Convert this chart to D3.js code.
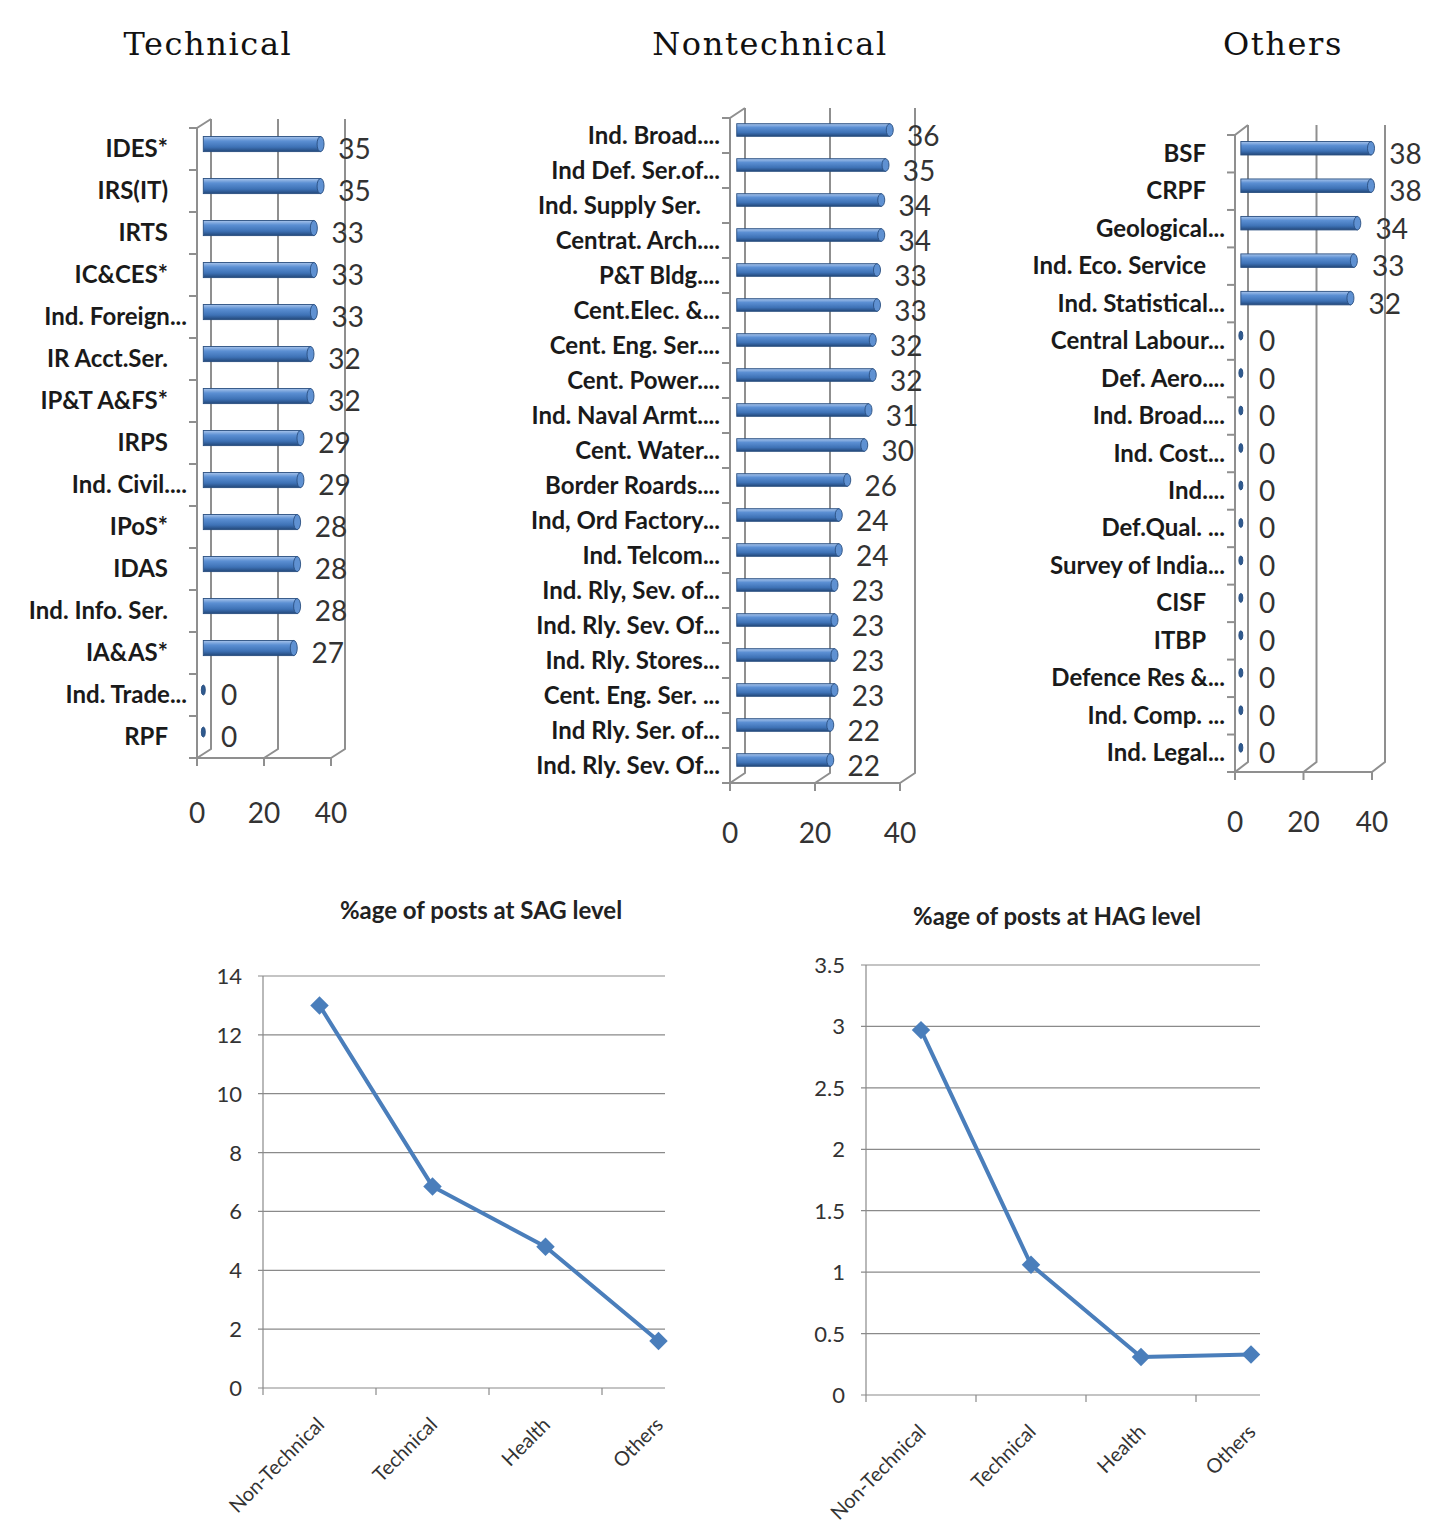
<!DOCTYPE html>
<html>
<head>
<meta charset="utf-8">
<script src="https://cdn.jsdelivr.net/npm/d3@7"></script>
<style>
  body { margin: 0; background: #fff; }
  svg { display: block; }
</style>
</head>
<body>
<svg id="chart" width="1454" height="1539"></svg>
<script>
// ---- data ----
var techLabels = ["IDES*", "IRS(IT)", "IRTS", "IC&CES*", "Ind. Foreign...", "IR Acct.Ser.", "IP&T A&FS*",
    "IRPS", "Ind. Civil....", "IPoS*", "IDAS", "Ind. Info. Ser.", "IA&AS*", "Ind. Trade...", "RPF"];
var techValues = [35, 35, 33, 33, 33, 32, 32, 29, 29, 28, 28, 28, 27, 0, 0];

var nonTechLabels = ["Ind. Broad....", "Ind Def. Ser.of...", "Ind. Supply Ser.", "Centrat. Arch....", "P&T Bldg....",
    "Cent.Elec. &...", "Cent. Eng. Ser....", "Cent. Power....", "Ind. Naval Armt....", "Cent. Water...",
    "Border Roards....", "Ind, Ord Factory...", "Ind. Telcom...", "Ind. Rly, Sev. of...", "Ind. Rly. Sev. Of...",
    "Ind. Rly. Stores...", "Cent. Eng. Ser. ...", "Ind Rly. Ser. of...", "Ind. Rly. Sev. Of..."];
var nonTechValues = [36, 35, 34, 34, 33, 33, 32, 32, 31, 30, 26, 24, 24, 23, 23, 23, 23, 22, 22];

var otherLabels = ["BSF", "CRPF", "Geological...", "Ind. Eco. Service", "Ind. Statistical...", "Central Labour...",
    "Def. Aero....", "Ind. Broad....", "Ind. Cost...", "Ind....", "Def.Qual. ...", "Survey of India...",
    "CISF", "ITBP", "Defence Res &...", "Ind. Comp. ...", "Ind. Legal..."];
var otherValues = [38, 38, 34, 33, 32, 0, 0, 0, 0, 0, 0, 0, 0, 0, 0, 0, 0];

var barTicks = [0, 20, 40];

var lineCategories = ["Non-Technical", "Technical", "Health", "Others"];
var sagValues = [13.0, 6.85, 4.8, 1.6];
var hagValues = [2.97, 1.06, 0.31, 0.33];
var sagTicks = [0, 2, 4, 6, 8, 10, 12, 14];
var hagTicks = [0, 0.5, 1, 1.5, 2, 2.5, 3, 3.5];

var svg = d3.select("#chart");
var labelFont = "Lato, 'Open Sans', sans-serif";

// bar gradient (cylinder look)
var defs = svg.append("defs");
var grad = defs.append("linearGradient")
    .attr("id", "barGrad")
    .attr("x1", 0).attr("y1", 0).attr("x2", 0).attr("y2", 1);
grad.append("stop").attr("offset", "0%").attr("stop-color", "#a9c5ec");
grad.append("stop").attr("offset", "30%").attr("stop-color", "#5b8fd3");
grad.append("stop").attr("offset", "70%").attr("stop-color", "#3e72b6");
grad.append("stop").attr("offset", "100%").attr("stop-color", "#23487a");

var barPanels = [
    {title: "Technical", titleX: 208, labels: techLabels, values: techValues,
     x0: 197, x40: 331, top: 128, bottom: 758, dx: 14, dy: -9, tickLabelY: 823},
    {title: "Nontechnical", titleX: 770, labels: nonTechLabels, values: nonTechValues,
     x0: 730, x40: 900, top: 118, bottom: 783, dx: 15, dy: -10, tickLabelY: 843},
    {title: "Others", titleX: 1283, labels: otherLabels, values: otherValues,
     x0: 1235, x40: 1372, top: 135, bottom: 772, dx: 13, dy: -10, tickLabelY: 832}
];

function drawBarPanel(p) {
    var g = svg.append("g");
    var x = d3.scaleLinear().domain([0, 40]).range([p.x0, p.x40]);
    var y = d3.scaleBand().domain(d3.range(p.labels.length)).range([p.top, p.bottom]);
    var bw = y.bandwidth();

    g.append("text")
        .attr("x", p.titleX).attr("y", 55)
        .attr("text-anchor", "middle")
        .style("font-family", "'DejaVu Serif', serif")
        .style("font-size", "32px")
        .style("letter-spacing", "1.6px")
        .attr("fill", "#111")
        .text(p.title);

    var lineColor = "#8f8f8f";

    // back wall gridlines + floor diagonals
    g.selectAll(".grid").data(barTicks).enter().append("path")
        .attr("d", function (t) {
            return "M" + (x(t) + p.dx) + "," + (p.top + p.dy) +
                   "V" + (p.bottom + p.dy) + "L" + x(t) + "," + p.bottom;
        })
        .attr("fill", "none").attr("stroke", lineColor).attr("stroke-width", 2);

    // front vertical axis, top diagonal, floor front edge
    g.append("path")
        .attr("d", "M" + (p.x0 + p.dx) + "," + (p.top + p.dy) + "L" + p.x0 + "," + p.top +
                   "V" + p.bottom + "H" + p.x40)
        .attr("fill", "none").attr("stroke", lineColor).attr("stroke-width", 2);

    // tick marks
    g.selectAll(".xt").data(barTicks).enter().append("line")
        .attr("x1", function (t) { return x(t); }).attr("x2", function (t) { return x(t); })
        .attr("y1", p.bottom).attr("y2", p.bottom + 8)
        .attr("stroke", lineColor).attr("stroke-width", 2);
    g.selectAll(".yt").data(d3.range(p.labels.length + 1)).enter().append("line")
        .attr("x1", p.x0 - 8).attr("x2", p.x0)
        .attr("y1", function (i) { return p.top + i * bw; })
        .attr("y2", function (i) { return p.top + i * bw; })
        .attr("stroke", lineColor).attr("stroke-width", 2);

    // axis numbers
    g.selectAll(".xl").data(barTicks).enter().append("text")
        .attr("x", function (t) { return x(t); }).attr("y", p.tickLabelY)
        .attr("text-anchor", "middle")
        .style("font-family", labelFont).style("font-size", "28px")
        .attr("fill", "#333")
        .text(function (t) { return t; });

    // category labels (truncated ones sit closer to the axis)
    g.selectAll(".cl").data(p.labels).enter().append("text")
        .attr("x", function (d) { return /\.\.\.$/.test(d) ? p.x0 - 10 : p.x0 - 29; })
        .attr("y", function (d, i) { return y(i) + bw / 2 + 8; })
        .attr("text-anchor", "end")
        .style("font-family", labelFont).style("font-size", "24px").style("font-weight", "bold")
        .attr("fill", "#1a1a1a")
        .text(function (d) { return d; });

    // bars
    var h = bw * 0.36;
    var bdx = p.dx * 0.45, bdy = p.dy * 0.55;
    var bars = g.selectAll(".bar").data(p.values).enter().append("g");
    bars.filter(function (v) { return v > 0; }).append("rect")
        .attr("x", x(0) + bdx)
        .attr("y", function (v, i) { return y(i) + bw / 2 + bdy - h / 2; })
        .attr("width", function (v) { return x(v) - x(0); })
        .attr("height", h)
        .attr("fill", "url(#barGrad)")
        .attr("stroke", "#2a4f80").attr("stroke-width", 0.9);
    bars.append("ellipse")
        .attr("cx", function (v) { return x(v) + bdx; })
        .attr("cy", function (v, i) { return y(i) + bw / 2 + bdy; })
        .attr("rx", function (v) { return v > 0 ? 3.5 : 2; })
        .attr("ry", function (v) { return v > 0 ? h / 2 : h / 3; })
        .attr("fill", function (v) { return v > 0 ? "#5f91d2" : "#2f5a8f"; })
        .attr("stroke", "#2a4f80").attr("stroke-width", 0.9);

    // value labels
    g.selectAll(".vl").data(p.values).enter().append("text")
        .attr("x", function (v) { return x(v) + 24; })
        .attr("y", function (v, i) { return y(i) + bw / 2 + 10; })
        .style("font-family", labelFont).style("font-size", "28px")
        .attr("fill", "#333")
        .text(function (v) { return v; });
}

barPanels.forEach(drawBarPanel);

// ---- line charts ----
var linePanels = [
    {title: "%age of posts at SAG level", titleX: 481, titleY: 919, values: sagValues, ticks: sagTicks,
     left: 263, band: 113, right: 665, zeroY: 1388, topY: 976, max: 14},
    {title: "%age of posts at HAG level", titleX: 1057, titleY: 925, values: hagValues, ticks: hagTicks,
     left: 866, band: 110, right: 1260, zeroY: 1395, topY: 965, max: 3.5}
];

function drawLinePanel(p) {
    var g = svg.append("g");
    var x = d3.scaleBand().domain(lineCategories).range([p.left, p.left + lineCategories.length * p.band]);
    var y = d3.scaleLinear().domain([0, p.max]).range([p.zeroY, p.topY]);
    var axisColor = "#8a8a8a";

    g.append("text")
        .attr("x", p.titleX).attr("y", p.titleY)
        .attr("text-anchor", "middle")
        .style("font-family", labelFont).style("font-size", "24px").style("font-weight", "bold")
        .attr("fill", "#222")
        .text(p.title);

    g.selectAll(".gl").data(p.ticks).enter().append("line")
        .attr("x1", p.left - 5).attr("x2", p.right)
        .attr("y1", function (t) { return y(t); }).attr("y2", function (t) { return y(t); })
        .attr("stroke", axisColor).attr("stroke-width", 1.2);

    g.append("line")
        .attr("x1", p.left).attr("x2", p.left)
        .attr("y1", p.topY).attr("y2", p.zeroY)
        .attr("stroke", axisColor).attr("stroke-width", 1.2);

    g.selectAll(".xt").data(lineCategories).enter().append("line")
        .attr("x1", function (c) { return x(c); }).attr("x2", function (c) { return x(c); })
        .attr("y1", p.zeroY).attr("y2", p.zeroY + 7)
        .attr("stroke", axisColor).attr("stroke-width", 1.2);

    g.selectAll(".yl").data(p.ticks).enter().append("text")
        .attr("x", p.left - 21)
        .attr("y", function (t) { return y(t) + 8; })
        .attr("text-anchor", "end")
        .style("font-family", labelFont).style("font-size", "22px")
        .attr("fill", "#333")
        .text(function (t) { return t; });

    g.selectAll(".xl").data(lineCategories).enter().append("text")
        .attr("transform", function (c) {
            return "translate(" + (x(c) + x.bandwidth() / 2 + 6) + "," + (p.zeroY + 38) + ") rotate(-45)";
        })
        .attr("text-anchor", "end")
        .style("font-family", labelFont).style("font-size", "20px")
        .attr("fill", "#333")
        .text(function (c) { return c; });

    var pts = p.values.map(function (v, i) {
        return {x: x(lineCategories[i]) + x.bandwidth() / 2, y: y(v)};
    });
    g.append("path")
        .datum(pts)
        .attr("d", d3.line().x(function (d) { return d.x; }).y(function (d) { return d.y; }))
        .attr("fill", "none").attr("stroke", "#4a7ebb").attr("stroke-width", 4)
        .attr("stroke-linejoin", "round");
    g.selectAll(".mk").data(pts).enter().append("path")
        .attr("d", d3.symbol().type(d3.symbolSquare).size(170))
        .attr("transform", function (d) { return "translate(" + d.x + "," + d.y + ") rotate(45)"; })
        .attr("fill", "#4a7ebb");
}

linePanels.forEach(drawLinePanel);
</script>
</body>
</html>
